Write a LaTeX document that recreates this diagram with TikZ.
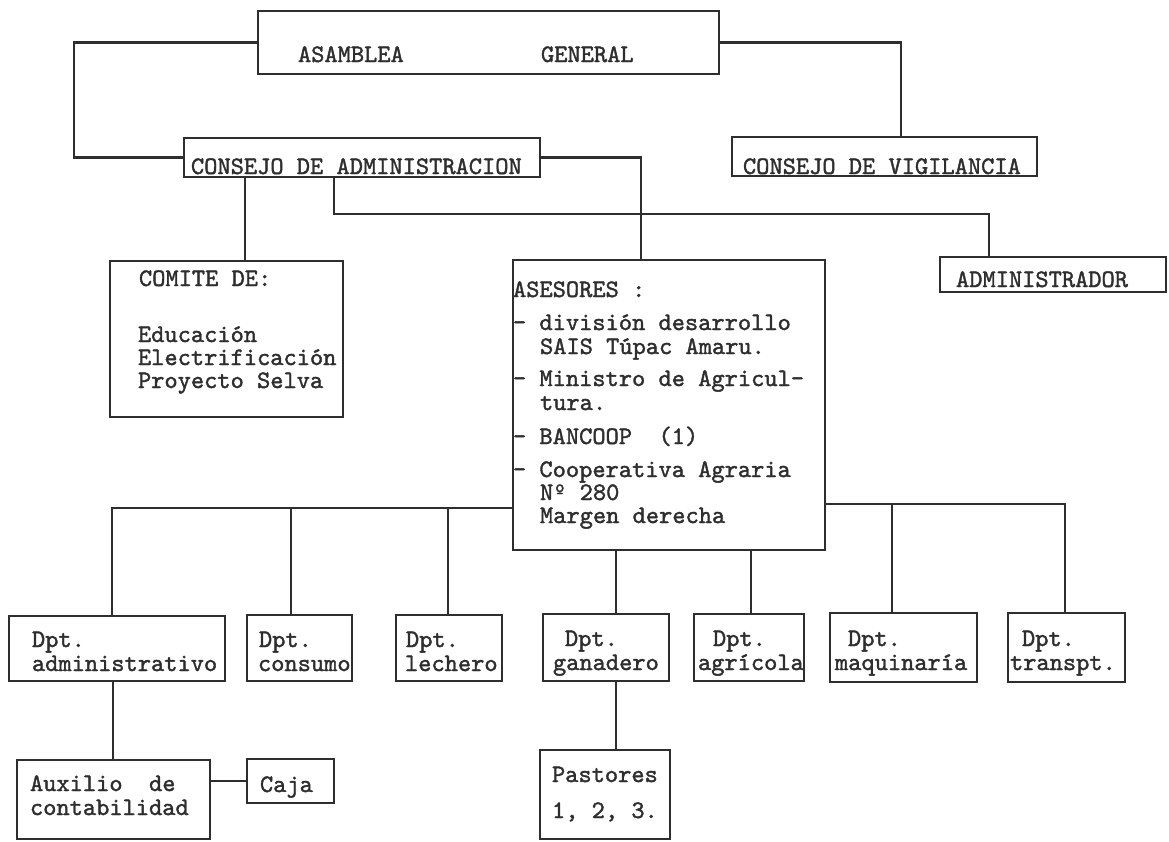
\documentclass[tikz,border=0pt]{standalone}
\usepackage{fontspec}
\setmonofont{lmmono10-regular.otf}[FakeBold=1.5]
\usetikzlibrary{fit}
\definecolor{ink}{HTML}{2E2E2E}
\newcommand\tw{\fontsize{25.2}{21}\selectfont\ttfamily}
\tikzset{
  box/.style={draw=ink, line width=2.3pt, inner sep=0pt, outer sep=0pt, rectangle},
  wire/.style={draw=ink, line width=2.1pt},
  txt/.style={anchor=base west, inner sep=0pt, outer sep=0pt, text=ink, font=\tw,
              text height=15pt, text depth=4pt},
}
\begin{document}
\begin{tikzpicture}[x=1pt,y=-1pt]
\fill[white] (0,0) rectangle (1169,841);
\useasboundingbox (0,0) rectangle (1169,841);

% ---------- boxes ----------
\node[box, fit={(258,11) (719,74)}]   (asam)   {};
\node[box, fit={(184,138) (540,177)}] (cadm)   {};
\node[box, fit={(732,137) (1037,176)}] (cvig)  {};
\node[box, fit={(940,257) (1166,292)}] (admr)  {};
\node[box, fit={(110,261) (343,417)}] (comite) {};
\node[box, fit={(513,260) (825,550)}] (ases)   {};
\node[box, fit={(9,616) (225,681)}]   (dadm)   {};
\node[box, fit={(247,615) (352,681)}] (dcon)   {};
\node[box, fit={(396,615) (502,681)}] (dlec)   {};
\node[box, fit={(543,614) (669,681)}] (dgan)   {};
\node[box, fit={(694,614) (804,681)}] (dagr)   {};
\node[box, fit={(830,613) (977,682)}] (dmaq)   {};
\node[box, fit={(1008,613) (1125,682)}] (dtra) {};
\node[box, fit={(17,760) (210,839)}]  (aux)    {};
\node[box, fit={(247,759) (334,803)}] (caja)   {};
\node[box, fit={(540,750) (670,839)}] (past)   {};

% ---------- texts ----------
\node[txt] (tAsam) at (298,62) {ASAMBLEA};
\node[txt] (tGen)  at (541,62) {GENERAL};
\node[txt] (tCadm) at (191,174) {CONSEJO DE ADMINISTRACION};
\node[txt] (tCvig) at (743,174) {CONSEJO DE VIGILANCIA};
\node[txt] (tAdmr) at (956,287) {ADMINISTRADOR};

\node[txt] (tCom1) at (139,286) {COMITE DE:};
\node[txt] (tCom2) at (138,342) {Educación};
\node[txt] (tCom3) at (138,365) {Electrificación};
\node[txt] (tCom4) at (138,388) {Proyecto Selva};

\node[txt] (tAs0) at (513,297) {ASESORES :};
\node[txt] (tAs1) at (513,330) {- división desarrollo};
\node[txt] (tAs2) at (540,354) {SAIS Túpac Amaru.};
\node[txt] (tAs3) at (513,386) {- Ministro de Agricul-};
\node[txt] (tAs4) at (540,410) {tura.};
\node[txt] (tAs5) at (513,444) {- BANCOOP\ \ (1)};
\node[txt] (tAs6) at (513,477) {- Cooperativa Agraria};
\node[txt] (tAs7) at (540,500) {Nº 280};
\node[txt] (tAs8) at (540,523) {Margen derecha};

\node[txt] (tD1a) at (32,647)  {Dpt.};
\node[txt] (tD1b) at (32,671)  {administrativo};
\node[txt] (tD2a) at (259,647) {Dpt.};
\node[txt] (tD2b) at (258,671) {consumo};
\node[txt] (tD3a) at (406,647) {Dpt.};
\node[txt] (tD3b) at (405,671) {lechero};
\node[txt] (tD4a) at (565,646) {Dpt.};
\node[txt] (tD4b) at (553,670) {ganadero};
\node[txt] (tD5a) at (713,646) {Dpt.};
\node[txt] (tD5b) at (698,670) {agrícola};
\node[txt] (tD6a) at (848,646) {Dpt.};
\node[txt] (tD6b) at (835,670) {maquinaría};
\node[txt] (tD7a) at (1022,646) {Dpt.};
\node[txt] (tD7b) at (1010,670) {transpt.};

\node[txt] (tAux1) at (30,791) {Auxilio\ \ de};
\node[txt] (tAux2) at (30,815) {contabilidad};
\node[txt] (tCaja) at (260,792) {Caja};
\node[txt] (tPas1) at (552,782) {Pastores};
\node[txt] (tPas2) at (552,818) {1, 2, 3.};

% ---------- junction coordinates ----------
\coordinate (jL) at (74,100);
\coordinate (jR) at (901,100);
\coordinate (jA) at (641,200);
\coordinate (jC) at (245,220);
\coordinate (jD) at (334,214);
\coordinate (jE) at (989,214);
\coordinate (bL)  at (112,508);
\coordinate (bL2) at (291,508);
\coordinate (bL3) at (448,508);
\coordinate (bR)  at (1065,504);
\coordinate (bR2) at (892,504);
\coordinate (g)   at (616,600);
\coordinate (ag)  at (751,600);
\coordinate (k)   at (113,720);

% ---------- connectors ----------
\draw[wire] (asam.west) -| (jL) |- (cadm.west);
\draw[wire] (asam.east) -| (jR |- cvig.north);
\draw[wire] (cadm.east) -| (jA |- ases.north);
\draw[wire] (cadm.south -| jC) -- (comite.north -| jC);
\draw[wire] (cadm.south -| jD) -- (jD) -- (jE) -- (jE |- admr.north);

\draw[wire] (ases.west |- bL) -- (bL) -- (bL |- dadm.north);
\draw[wire] (bL2) -- (bL2 |- dcon.north);
\draw[wire] (bL3) -- (bL3 |- dlec.north);
\draw[wire] (ases.east |- bR) -- (bR) -- (bR |- dtra.north);
\draw[wire] (bR2) -- (bR2 |- dmaq.north);
\draw[wire] (ases.south -| g) -- (dgan.north -| g);
\draw[wire] (ases.south -| ag) -- (dagr.north -| ag);

\draw[wire] (dadm.south -| k) -- (aux.north -| k);
\draw[wire] (caja.west) -- (caja.west -| aux.east);
\draw[wire] (dgan.south -| g) -- (past.north -| g);
\end{tikzpicture}
\end{document}
